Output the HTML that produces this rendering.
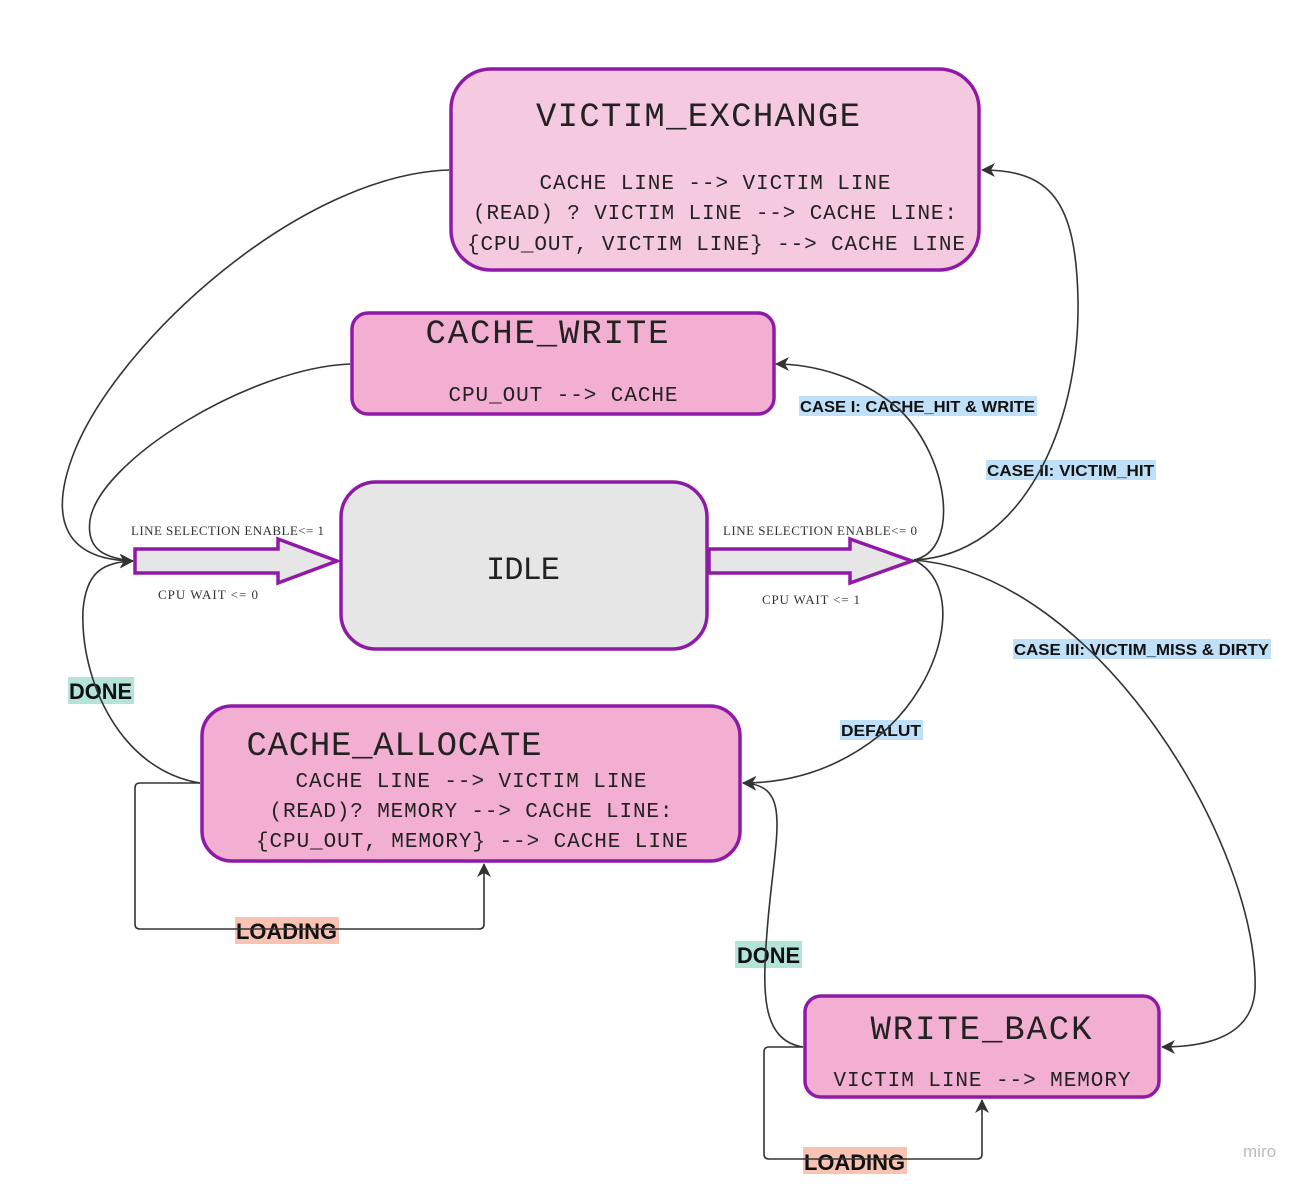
<!DOCTYPE html>
<html><head><meta charset="utf-8"><style>
html,body{margin:0;padding:0;background:#fff;}
svg{display:block;}
.t{font-family:"Liberation Mono",monospace;fill:#222;}
.s{font-family:"Liberation Serif",serif;fill:#333;font-size:13px;}
.b{font-family:"Liberation Sans",sans-serif;font-weight:bold;fill:#111;}
.c{fill:none;stroke:#333;stroke-width:1.6;}
</style></head><body>
<svg width="1315" height="1187" viewBox="0 0 1315 1187" xmlns="http://www.w3.org/2000/svg">
<defs>
<marker id="a" markerWidth="16" markerHeight="16" refX="13" refY="8" orient="auto" markerUnits="userSpaceOnUse">
<path d="M0,1 L14,8 L0,15 L4,8 Z" fill="#333"/>
</marker>
</defs>
<rect width="1315" height="1187" fill="#fff"/>

<rect x="799" y="396" width="238" height="20" fill="#bfe0f7"/>
<text class="b" x="800" y="412" font-size="16" textLength="235" lengthAdjust="spacingAndGlyphs">CASE I: CACHE_HIT &amp; WRITE</text>
<rect x="986" y="460" width="170" height="20" fill="#bfe0f7"/>
<text class="b" x="987" y="476" font-size="16" textLength="167" lengthAdjust="spacingAndGlyphs">CASE II: VICTIM_HIT</text>
<rect x="1013" y="639" width="258" height="20" fill="#bfe0f7"/>
<text class="b" x="1014" y="655" font-size="16" textLength="255" lengthAdjust="spacingAndGlyphs">CASE III: VICTIM_MISS &amp; DIRTY</text>
<rect x="840" y="720" width="83" height="20" fill="#bfe0f7"/>
<text class="b" x="841" y="736" font-size="16" textLength="80" lengthAdjust="spacingAndGlyphs">DEFALUT</text>
<rect x="68" y="677" width="66" height="27" fill="#b4e4d8"/>
<text class="b" x="69" y="699" font-size="22" textLength="63" lengthAdjust="spacingAndGlyphs">DONE</text>
<rect x="735" y="941" width="67" height="27" fill="#b4e4d8"/>
<text class="b" x="737" y="963" font-size="22" textLength="63" lengthAdjust="spacingAndGlyphs">DONE</text>
<rect x="235" y="917" width="104" height="27" fill="#f8c3b2"/>
<text class="b" x="236" y="939" font-size="22" textLength="101" lengthAdjust="spacingAndGlyphs">LOADING</text>
<rect x="803" y="1147" width="104" height="27" fill="#f8c3b2"/>
<text class="b" x="804" y="1170" font-size="22" textLength="101" lengthAdjust="spacingAndGlyphs">LOADING</text>

<path class="c" d="M449,170 C300,175 120,340 75,450 C45,525 70,560 133,561" marker-end="url(#a)"/>
<path class="c" d="M350,364 C250,368 100,460 90,520 C86,550 105,558 133,561"/>
<path class="c" d="M200,783 C120,770 80,680 83,610 C86,575 100,562 133,561" marker-end="url(#a)"/>
<path class="c" d="M914,560 C1020,555 1080,430 1078,300 C1076,200 1050,170 982,170" marker-end="url(#a)"/>
<path class="c" d="M914,560 C960,550 950,460 900,410 C860,375 810,364 776,364" marker-end="url(#a)"/>
<path class="c" d="M914,560 C1100,575 1260,850 1255,990 C1252,1035 1210,1047 1162,1047" marker-end="url(#a)"/>
<path class="c" d="M914,560 C965,585 945,680 880,735 C830,775 780,783 743,783" marker-end="url(#a)"/>
<path class="c" d="M803,1047 C760,1040 762,990 768,920 C776,830 792,785 743,783" marker-end="url(#a)"/>
<path class="c" d="M200,783 L140,783 Q135,783 135,788 L135,924 Q135,929 140,929 L479,929 Q484,929 484,924 L484,864" marker-end="url(#a)"/>
<path class="c" d="M803,1047 L769,1047 Q764,1047 764,1052 L764,1154 Q764,1159 769,1159 L977,1159 Q982,1159 982,1154 L982,1100" marker-end="url(#a)"/>

<rect x="451" y="69" width="528" height="201" rx="40" fill="#f5c9e0" stroke="#8e1aa6" stroke-width="3.5"/>
<text class="t" x="698" y="126" font-size="34" text-anchor="middle" textLength="324">VICTIM_EXCHANGE</text>
<text class="t" x="715" y="189" font-size="21" text-anchor="middle" textLength="351">CACHE LINE --&gt; VICTIM LINE</text>
<text class="t" x="715" y="219" font-size="21" text-anchor="middle" textLength="484">(READ) ? VICTIM LINE --&gt; CACHE LINE:</text>
<text class="t" x="716" y="250" font-size="21" text-anchor="middle" textLength="498">{CPU_OUT, VICTIM LINE} --&gt; CACHE LINE</text>

<rect x="352" y="313" width="422" height="101" rx="16" fill="#f3afd1" stroke="#8e1aa6" stroke-width="3.5"/>
<text class="t" x="547" y="343" font-size="34" text-anchor="middle" textLength="243">CACHE_WRITE</text>
<text class="t" x="563" y="401" font-size="21" text-anchor="middle" textLength="229">CPU_OUT --&gt; CACHE</text>

<rect x="341" y="482" width="366" height="167" rx="35" fill="#e6e6e6" stroke="#8e1aa6" stroke-width="3.5"/>
<text class="t" x="523" y="579" font-size="32" text-anchor="middle" textLength="74">IDLE</text>

<rect x="202" y="706" width="538" height="155" rx="30" fill="#f3afd1" stroke="#8e1aa6" stroke-width="3.5"/>
<text class="t" x="394" y="755" font-size="34" text-anchor="middle" textLength="295">CACHE_ALLOCATE</text>
<text class="t" x="471" y="787" font-size="21" text-anchor="middle" textLength="351">CACHE LINE --&gt; VICTIM LINE</text>
<text class="t" x="471" y="817" font-size="21" text-anchor="middle" textLength="403">(READ)? MEMORY --&gt; CACHE LINE:</text>
<text class="t" x="472" y="847" font-size="21" text-anchor="middle" textLength="432">{CPU_OUT, MEMORY} --&gt; CACHE LINE</text>

<rect x="805" y="996" width="354" height="101" rx="16" fill="#f3afd1" stroke="#8e1aa6" stroke-width="3.5"/>
<text class="t" x="981" y="1039" font-size="34" text-anchor="middle" textLength="221">WRITE_BACK</text>
<text class="t" x="982" y="1086" font-size="21" text-anchor="middle" textLength="297">VICTIM LINE --&gt; MEMORY</text>

<path d="M135,549 L278,549 L278,539 L337,561 L278,583 L278,573 L135,573 Z" fill="#e6e6e6" stroke="#8e1aa6" stroke-width="3.5"/>
<path d="M709,549 L850,549 L850,539 L912,561 L850,583 L850,573 L709,573 Z" fill="#e6e6e6" stroke="#8e1aa6" stroke-width="3.5"/>
<path class="c" d="M912,561 L918,561"/>

<text class="s" x="131" y="535" textLength="193">LINE SELECTION ENABLE&lt;= 1</text>
<text class="s" x="158" y="599" textLength="100">CPU WAIT &lt;= 0</text>
<text class="s" x="723" y="535" textLength="194">LINE SELECTION ENABLE&lt;= 0</text>
<text class="s" x="762" y="604" textLength="98">CPU WAIT &lt;= 1</text>

<text x="1243" y="1157" font-family="Liberation Sans, sans-serif" font-size="17" fill="#bbb">miro</text>
</svg>
</body></html>
